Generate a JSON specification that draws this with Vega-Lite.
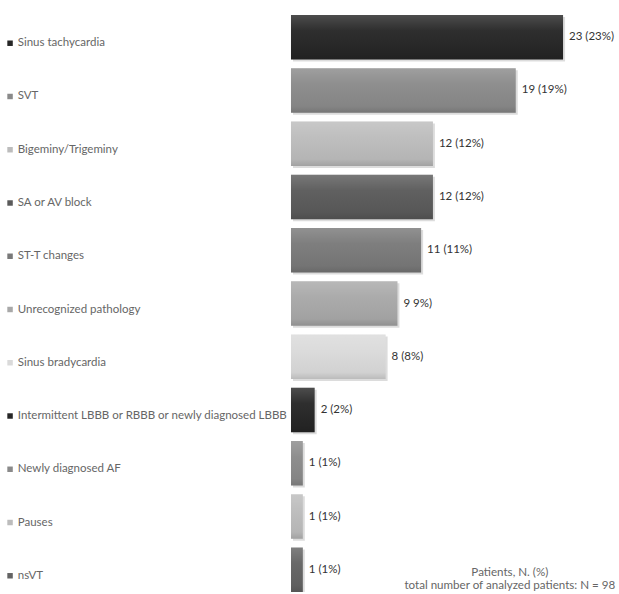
{
  "$schema": "https://vega.github.io/schema/vega-lite/v6.json",
  "width": 619,
  "height": 577,
  "autosize": {"type": "none"},
  "padding": {"left": 0, "top": 15, "right": 0, "bottom": 0},
  "background": "white",
  "config": {"view": {"stroke": null}, "font": "Lato"},
  "data": {
    "values": [
      {"category": "Sinus tachycardia", "n": 23, "label": "23 (23%)"},
      {"category": "SVT", "n": 19, "label": "19 (19%)"},
      {"category": "Bigeminy/Trigeminy", "n": 12, "label": "12 (12%)"},
      {"category": "SA or AV block", "n": 12, "label": "12 (12%)"},
      {"category": "ST-T changes", "n": 11, "label": "11 (11%)"},
      {"category": "Unrecognized pathology", "n": 9, "label": "9 9%)"},
      {"category": "Sinus bradycardia", "n": 8, "label": "8 (8%)"},
      {"category": "Intermittent LBBB or RBBB or newly diagnosed LBBB", "n": 2, "label": "2 (2%)"},
      {"category": "Newly diagnosed AF", "n": 1, "label": "1 (1%)"},
      {"category": "Pauses", "n": 1, "label": "1 (1%)"},
      {"category": "nsVT", "n": 1, "label": "1 (1%)"}
    ]
  },
  "encoding": {
    "y": {
      "field": "category",
      "type": "nominal",
      "sort": null,
      "axis": null,
      "scale": {"paddingInner": 0.165, "paddingOuter": 0}
    }
  },
  "layer": [
    {
      "mark": {"type": "bar", "color": "#9a9a9a", "opacity": 0.35, "xOffset": 2, "yOffset": 2},
      "encoding": {
        "x": {"field": "n", "type": "quantitative", "axis": null, "scale": {"domain": [-24.6, 27.73], "nice": false, "zero": false}}
      }
    },
    {
      "mark": {"type": "bar"},
      "encoding": {
        "x": {"field": "n", "type": "quantitative", "axis": null, "scale": {"domain": [-24.6, 27.73], "nice": false, "zero": false}},
        "color": {
          "field": "category",
          "type": "nominal",
          "legend": null,
          "scale": {
            "domain": ["Sinus tachycardia", "SVT", "Bigeminy/Trigeminy", "SA or AV block", "ST-T changes", "Unrecognized pathology", "Sinus bradycardia", "Intermittent LBBB or RBBB or newly diagnosed LBBB", "Newly diagnosed AF", "Pauses", "nsVT"],
            "range": ["#262626", "#8a8a8a", "#bcbcbc", "#5a5a5a", "#797979", "#a8a8a8", "#dadada", "#262626", "#8a8a8a", "#bcbcbc", "#636363"]
          }
        }
      }
    },
    {
      "mark": {
        "type": "bar",
        "color": {
          "gradient": "linear",
          "x1": 0, "y1": 0, "x2": 0, "y2": 1,
          "stops": [
            {"offset": 0, "color": "rgba(255,255,255,0.18)"},
            {"offset": 0.35, "color": "rgba(255,255,255,0.04)"},
            {"offset": 0.85, "color": "rgba(0,0,0,0.04)"},
            {"offset": 1, "color": "rgba(0,0,0,0.14)"}
          ]
        }
      },
      "encoding": {
        "x": {"field": "n", "type": "quantitative", "axis": null, "scale": {"domain": [-24.6, 27.73], "nice": false, "zero": false}}
      }
    },
    {
      "mark": {"type": "text", "align": "left", "baseline": "middle", "dx": 6, "fontSize": 11.5, "color": "#333333"},
      "encoding": {
        "x": {"field": "n", "type": "quantitative", "axis": null, "scale": {"domain": [-24.6, 27.73], "nice": false, "zero": false}},
        "text": {"field": "label"}
      }
    },
    {
      "mark": {"type": "point", "shape": "square", "filled": true, "size": 30, "opacity": 1, "yOffset": 6},
      "encoding": {
        "x": {"datum": -23.75, "type": "quantitative", "scale": {"domain": [-24.6, 27.73], "nice": false, "zero": false}},
        "color": {"field": "category", "type": "nominal", "legend": null}
      }
    },
    {
      "mark": {"type": "text", "align": "left", "baseline": "middle", "dy": 6, "fontSize": 11.5, "color": "#666666"},
      "encoding": {
        "x": {"datum": -23.1, "type": "quantitative", "scale": {"domain": [-24.6, 27.73], "nice": false, "zero": false}},
        "text": {"field": "category"}
      }
    },
    {
      "data": {"values": [{"category": "nsVT", "note": ["Patients, N. (%)", "total number of analyzed patients: N = 98"]}]},
      "mark": {"type": "text", "align": "center", "baseline": "middle", "dy": 3, "fontSize": 11.6, "lineHeight": 13, "color": "#666666"},
      "encoding": {
        "x": {"datum": 18.5, "type": "quantitative", "scale": {"domain": [-24.6, 27.73], "nice": false, "zero": false}},
        "text": {"field": "note"}
      }
    }
  ]
}
